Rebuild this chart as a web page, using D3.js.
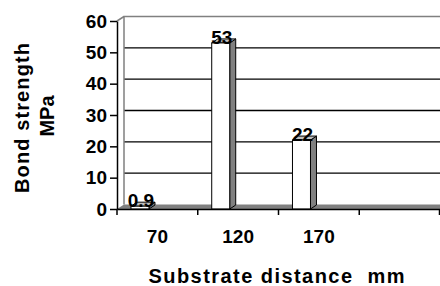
<!DOCTYPE html>
<html lang="en">
<head>
    <meta charset="UTF-8">
    <title>Bond strength vs substrate distance</title>
    <style>
        body { margin: 0; background: #fff; }
        svg { display: block; font-family: "Liberation Sans", Arial, sans-serif; font-weight: bold; }
    </style>
</head>
<body>
    <script src="https://d3js.org/d3.v7.min.js"></script>
    <script>
        // Data
        const categories = ["70", "120", "170", ""];
        const values = [0.9, 53, 22, null];
        const yTicks = [0, 10, 20, 30, 40, 50, 60];

        // Layout
        const width = 440,
            height = 286,
            plot = {left: 117, right: 440, top: 21, bottom: 209},
            wallDx = 7, wallDy = 4.5,      // depth of the back wall
            barDx = 6, barDy = 4,          // depth of a bar
            grey = "#808080";

        const x = d3.scaleBand()
            .domain(categories)
            .range([plot.left, plot.right]);
        const y = d3.scaleLinear()
            .domain([0, 60])
            .range([plot.bottom, plot.top]);
        const bw = x.bandwidth();

        const svg = d3.select("body").append("svg")
            .attr("width", width)
            .attr("height", height);

        // Back wall and floor
        const wallLeft = plot.left + wallDx,
            wallTop = y(60) - wallDy,
            wallBottom = y(0) - wallDy;

        svg.append("path")
            .attr("d", `M${plot.left},${y(0)}L${wallLeft},${wallBottom}L${plot.right},${wallBottom}L${plot.right},${y(0)}Z`)
            .attr("fill", grey);

        svg.selectAll(".grid")
            .data(yTicks.filter(d => d > 0 && d < 60))
            .enter().append("line")
            .attr("x1", wallLeft)
            .attr("x2", plot.right)
            .attr("y1", d => y(d) - wallDy)
            .attr("y2", d => y(d) - wallDy)
            .attr("stroke", "#000")
            .attr("stroke-width", 1.3);

        svg.append("path")
            .attr("d", `M${wallLeft},${wallBottom}L${wallLeft},${wallTop}L${plot.right},${wallTop}M${plot.left},${y(60)}L${wallLeft},${wallTop}`)
            .attr("fill", "none")
            .attr("stroke", grey)
            .attr("stroke-width", 1.5);

        // Bars, drawn as little boxes
        const bars = svg.selectAll(".bar")
            .data(categories.map((c, i) => ({cat: c, v: values[i]})).filter(d => d.v != null))
            .enter().append("g")
            .attr("class", "bar");

        const bx = d => x(d.cat) + bw * 0.173,
            bwid = bw * 0.223;

        bars.append("path")   // side
            .attr("d", d => {
                const r = bx(d) + bwid, t = y(d.v), b = y(0);
                return `M${r},${t}L${r + barDx},${t - barDy}L${r + barDx},${b - barDy}L${r},${b}Z`;
            })
            .attr("fill", grey)
            .attr("stroke", "#000")
            .attr("stroke-width", 1);
        bars.append("path")   // top
            .attr("d", d => {
                const l = bx(d), t = y(d.v);
                return `M${l},${t}L${l + barDx},${t - barDy}L${l + bwid + barDx},${t - barDy}L${l + bwid},${t}Z`;
            })
            .attr("fill", "#c0c0c0")
            .attr("stroke", "#000")
            .attr("stroke-width", 1);
        bars.append("rect")   // front
            .attr("x", bx)
            .attr("y", d => y(d.v))
            .attr("width", bwid)
            .attr("height", d => y(0) - y(d.v))
            .attr("fill", "#fff")
            .attr("stroke", "#000")
            .attr("stroke-width", 1);

        bars.append("text")
            .attr("x", d => bx(d) + bwid / 2 + 1)
            .attr("y", d => y(d.v) + 1)
            .attr("text-anchor", "middle")
            .style("font-size", "19px")
            .text(d => d.v);

        // Axes
        const yAxis = svg.append("g")
            .attr("transform", `translate(${plot.left},0)`)
            .call(d3.axisLeft(y).tickValues(yTicks).tickSize(7).tickSizeOuter(0).tickPadding(3));
        const xAxis = svg.append("g")
            .attr("transform", `translate(0,${plot.bottom})`)
            .call(d3.axisBottom(x).tickSize(0).tickSizeOuter(0).tickPadding(21));

        svg.selectAll(".tick text")
            .attr("font-size", null)
            .attr("font-family", null)
            .style("font-size", "19px")
            .style("font-family", "Liberation Sans, Arial, sans-serif")
            .style("font-weight", "bold")
            .attr("fill", "#000");
        yAxis.attr("font-family", null).attr("font-size", null);
        xAxis.attr("font-family", null).attr("font-size", null);

        xAxis.selectAll(".edge")
            .data(categories.map(c => x(c)).concat([plot.right - 0.5]))
            .enter().append("line")
            .attr("x1", d => d).attr("x2", d => d)
            .attr("y1", 0).attr("y2", 6)
            .attr("stroke", "#000")
            .attr("stroke-width", 1.5);

        svg.selectAll(".domain, .tick line")
            .attr("stroke", "#000")
            .attr("stroke-width", 1.5);

        // Axis titles
        svg.append("text")
            .attr("x", (plot.left + plot.right) / 2 - 2)
            .attr("y", 283)
            .attr("text-anchor", "middle")
            .attr("textLength", 256)
            .attr("lengthAdjust", "spacing")
            .style("white-space", "pre")
            .style("font-size", "20px")
            .text("Substrate distance  mm");

        const yTitle = svg.append("g")
            .attr("transform", "translate(0,118) rotate(-90)");
        yTitle.append("text")
            .attr("x", 0).attr("y", 29)
            .attr("text-anchor", "middle")
            .attr("textLength", 150)
            .attr("lengthAdjust", "spacing")
            .style("font-size", "20px")
            .text("Bond strength");
        yTitle.append("text")
            .attr("x", 2).attr("y", 54)
            .attr("text-anchor", "middle")
            .style("font-size", "20px")
            .text("MPa");
    </script>
</body>
</html>
